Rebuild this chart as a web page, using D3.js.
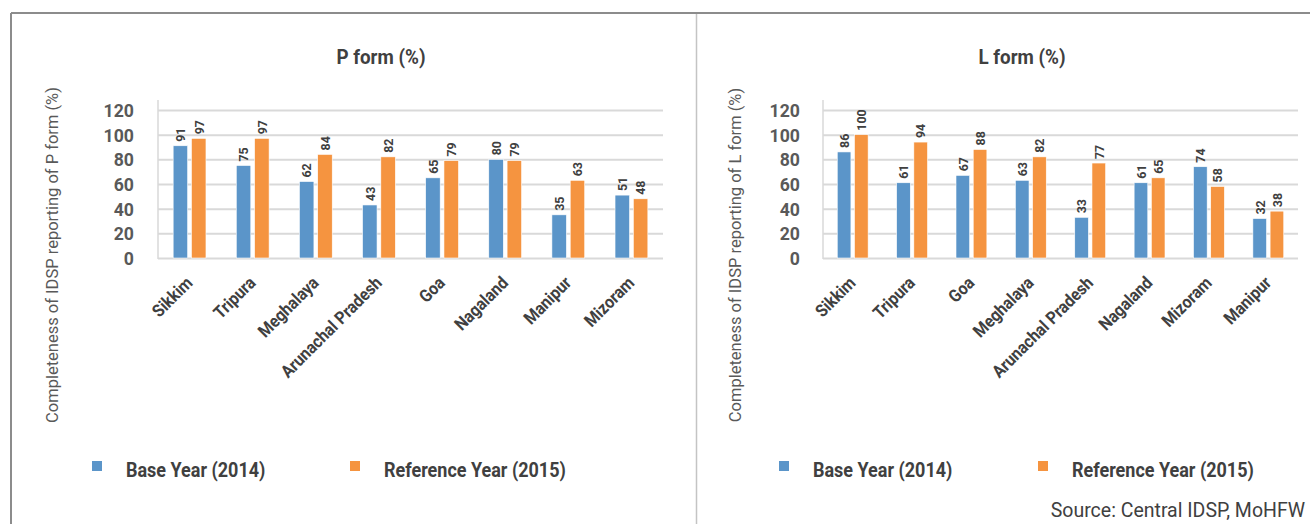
<!DOCTYPE html>
<html>
<head>
<meta charset="utf-8">
<script src="https://cdn.jsdelivr.net/npm/d3@7"></script>
<style>
  body { margin: 0; background: #fff; }
  svg { display: block; }
  text { font-family: Roboto, "Liberation Sans", sans-serif; }
</style>
</head>
<body>
<div id="container"></div>
<script>
/* DATA */
const pCategories = ["Sikkim", "Tripura", "Meghalaya", "Arunachal Pradesh", "Goa", "Nagaland", "Manipur", "Mizoram"];
const pBase = [91, 75, 62, 43, 65, 80, 35, 51];
const pReference = [97, 97, 84, 82, 79, 79, 63, 48];

const lCategories = ["Sikkim", "Tripura", "Goa", "Meghalaya", "Arunachal Pradesh", "Nagaland", "Mizoram", "Manipur"];
const lBase = [86, 61, 67, 63, 33, 61, 74, 32];
const lReference = [100, 94, 88, 82, 77, 65, 58, 38];

const yTicks = [0, 20, 40, 60, 80, 100, 120];
const seriesNames = ["Base Year (2014)", "Reference Year (2015)"];

/* CONSTANTS */
const width = 1310, height = 524;
const colors = ["#5b95c9", "#f59440"];

const svg = d3.select("#container")
  .append("svg")
  .attr("width", width)
  .attr("height", height);

// frame
svg.append("line").attr("x1", 11).attr("x2", width).attr("y1", 13).attr("y2", 13)
  .attr("stroke", "#8c8c8c").attr("stroke-width", 2);
svg.append("line").attr("x1", 11).attr("x2", 11).attr("y1", 13).attr("y2", height)
  .attr("stroke", "#8c8c8c").attr("stroke-width", 2);
svg.append("line").attr("x1", 696.5).attr("x2", 696.5).attr("y1", 14).attr("y2", height)
  .attr("stroke", "#c4c4c4").attr("stroke-width", 1.5);

function drawPanel(opt) {
  const g = svg.append("g");
  const x = d3.scaleBand().domain(opt.categories).range([opt.left, opt.right]);
  const y = d3.scaleLinear().domain([0, 120]).range([258, 110]);

  // title
  g.append("text")
    .attr("transform", `translate(${opt.titleX},64) scale(0.94,1)`)
    .attr("text-anchor", "middle")
    .style("font-size", "20px").style("font-weight", "bold").style("fill", "#404040")
    .text(opt.title);

  // gridlines + tick labels
  const yAxis = d3.axisLeft(y).tickValues(yTicks)
    .tickSize(-(opt.right - opt.left)).tickPadding(opt.left - opt.tickX);
  const ya = g.append("g").attr("transform", `translate(${opt.left},0)`).call(yAxis);
  ya.select(".domain").remove();
  ya.selectAll(".tick line").attr("stroke", "#d9d9d9").attr("stroke-width", 2);
  ya.selectAll(".tick text")
    .attr("x", null).attr("dy", null)
    .attr("transform", `translate(${opt.tickX - opt.left},6.5) scale(0.93,1)`)
    .attr("text-anchor", "end")
    .style("font-size", "19px").style("font-weight", "bold").style("fill", "#595959")
    .style("font-family", "Roboto, sans-serif");

  // y axis line
  g.append("line")
    .attr("x1", opt.left).attr("x2", opt.left)
    .attr("y1", 100).attr("y2", 259)
    .attr("stroke", "#d9d9d9").attr("stroke-width", 1.5);

  // y axis title
  g.append("text")
    .attr("transform", `translate(${opt.yTitleX},255) rotate(-90)`)
    .attr("text-anchor", "middle")
    .style("font-size", "16.5px").style("fill", "#595959")
    .text(opt.yTitle);

  // bars
  const bw = x.bandwidth() * 0.23;
  const gap = x.bandwidth() * 0.06;
  const series = [opt.base, opt.reference];
  series.forEach((vals, si) => {
    const data = opt.categories.map((c, i) => ({ c, v: vals[i] }));
    const bx = d => x(d.c) + x.bandwidth() / 2 + (si === 0 ? -gap / 2 - bw : gap / 2);
    g.selectAll(null).data(data).join("rect")
      .attr("x", bx)
      .attr("y", d => y(d.v))
      .attr("width", bw)
      .attr("height", d => y(0) - y(d.v))
      .attr("fill", colors[si])
      .attr("stroke", "#ffffff").attr("stroke-width", 0.6);
    g.selectAll(null).data(data).join("text")
      .attr("transform", d => `translate(${bx(d) + bw / 2 + 4.8},${y(d.v) - 4}) rotate(-90) scale(0.92,1)`)
      .style("font-size", "13.5px").style("font-weight", "bold").style("fill", "#404040")
      .text(d => d.v);
  });

  // category labels
  g.selectAll(null).data(opt.categories).join("text")
    .attr("transform", d => `translate(${x(d) + x.bandwidth() / 2 + 4},${284}) rotate(-45) scale(0.9,1)`)
    .attr("text-anchor", "end")
    .style("font-size", "17.5px").style("font-weight", "bold").style("fill", "#404040")
    .text(d => d);

  // legend
  const lg = g.selectAll(null).data(seriesNames).join("g")
    .attr("transform", (d, i) => `translate(${opt.legendX[i]},461)`);
  lg.append("rect").attr("width", 10).attr("height", 10).attr("fill", (d, i) => colors[i]);
  lg.append("text").attr("transform", `translate(${opt.legendGap},16) scale(0.9,1)`)
    .style("font-size", "20px").style("font-weight", "bold").style("fill", "#404040")
    .text(d => d);
}

drawPanel({
  categories: pCategories, base: pBase, reference: pReference,
  left: 158, right: 663, tickX: 134, titleX: 381, yTitleX: 58,
  title: "P form (%)", yTitle: "Completeness of IDSP reporting of P form (%)",
  legendX: [92, 350], legendGap: 34
});

drawPanel({
  categories: lCategories, base: lBase, reference: lReference,
  left: 823, right: 1298, tickX: 800, titleX: 1022, yTitleX: 741,
  title: "L form (%)", yTitle: "Completeness of IDSP reporting of L form (%)",
  legendX: [779, 1038], legendGap: 34
});

// source
svg.append("text")
  .attr("transform", `translate(1305,517)`)
  .attr("text-anchor", "end")
  .style("font-size", "19.5px").style("fill", "#404040")
  .text("Source: Central IDSP, MoHFW");
</script>
</body>
</html>
